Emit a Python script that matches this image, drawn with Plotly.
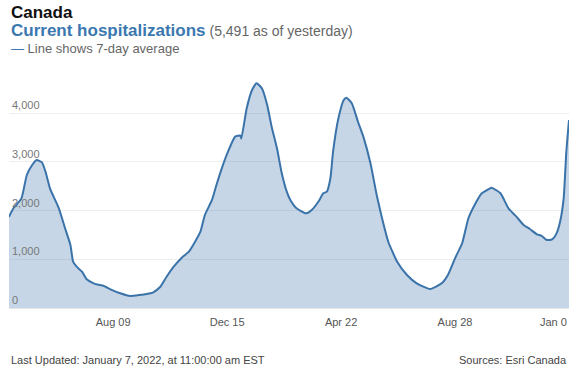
import plotly.graph_objects as go

dates = [
    "2020-04-14", "2020-04-19", "2020-04-28", "2020-05-04", "2020-05-10", "2020-05-15",
    "2020-05-21", "2020-05-25", "2020-05-30", "2020-06-09", "2020-06-16", "2020-06-22",
    "2020-06-25", "2020-06-29", "2020-07-05", "2020-07-10", "2020-07-18", "2020-07-25",
    "2020-07-29", "2020-08-06", "2020-08-17", "2020-08-28", "2020-09-08", "2020-09-20",
    "2020-09-23", "2020-10-01", "2020-10-08", "2020-10-16", "2020-10-25", "2020-11-02",
    "2020-11-09", "2020-11-15", "2020-11-20", "2020-11-28", "2020-12-03", "2020-12-09",
    "2020-12-16", "2020-12-24", "2020-12-30", "2020-12-31", "2021-01-06", "2021-01-12",
    "2021-01-17", "2021-01-23", "2021-01-29", "2021-02-03", "2021-02-09", "2021-02-14",
    "2021-02-20", "2021-02-24", "2021-03-03", "2021-03-14", "2021-03-20", "2021-03-28",
    "2021-04-02", "2021-04-06", "2021-04-10", "2021-04-13", "2021-04-19", "2021-04-25",
    "2021-04-28", "2021-05-04", "2021-05-11", "2021-05-17", "2021-05-25", "2021-06-01",
    "2021-06-07", "2021-06-14", "2021-06-24", "2021-07-05", "2021-07-16", "2021-07-31",
    "2021-08-13", "2021-08-20", "2021-08-28", "2021-09-05", "2021-09-12", "2021-09-19",
    "2021-09-27", "2021-10-03", "2021-10-08", "2021-10-18", "2021-10-27", "2021-11-05",
    "2021-11-13", "2021-11-20", "2021-11-28", "2021-12-03", "2021-12-09", "2021-12-15",
    "2021-12-20", "2021-12-24", "2021-12-28", "2021-12-31", "2022-01-03",
]
hospitalizations_7day = [
    1875, 2047, 2252, 2731, 2936, 3039,
    2991, 2799, 2457, 2047, 1636, 1294,
    951, 848, 745, 595, 507, 472,
    458, 384, 302, 246, 267, 302,
    322, 437, 643, 848, 1033, 1156,
    1361, 1567, 1910, 2218, 2526, 2868,
    3210, 3518, 3539, 3480, 4101, 4476,
    4614, 4511, 4168, 3723, 3279, 2799,
    2388, 2218, 2047, 1944, 2012, 2197,
    2355, 2388, 2663, 3210, 3895, 4271,
    4318, 4203, 3825, 3518, 2971, 2320,
    1842, 1361, 951, 678, 507, 390,
    507, 678, 1020, 1329, 1842, 2115,
    2355, 2423, 2471, 2355, 2047, 1875,
    1704, 1622, 1513, 1485, 1396, 1410,
    1533, 1772, 2252, 3210, 3860,
]
tick_dates = ["2020-08-09", "2020-12-15", "2021-04-22", "2021-08-28"]
tick_labels = ["Aug 09", "Dec 15", "Apr 22", "Aug 28"]
last_tick_date = "2022-01-03"
last_tick_label = "Jan 0"  # shown clipped in the original chart
y_ticks = [0, 1000, 2000, 3000, 4000]
y_labels = ["0", "1,000", "2,000", "3,000", "4,000"]

FONT = "Liberation Sans, Arial, Helvetica, sans-serif"
BLUE = "#3a73a9"

W, H = 581, 376
ML, MR, MT, MB = 9, 12, 75, 68

fig = go.Figure()
fig.add_trace(go.Scatter(
    x=dates, y=hospitalizations_7day, mode="lines",
    line=dict(color=BLUE, width=2, shape="spline", smoothing=0.5),
    fill="tozeroy", fillcolor="rgba(58,115,169,0.29)",
    hoverinfo="skip", showlegend=False,
))

plot_w = W - ML - MR
plot_h = H - MT - MB


def px(x, y):
    return (x - ML) / plot_w, (H - MB - y) / plot_h


header_footer = [
    ("<b>Canada</b>", 9, 12, "left", 17, "#111"),
    ("<b><span style='color:#3b78b0'>Current hospitalizations</span></b>"
     "<span style='font-size:14px;color:#666'> (5,491 as of yesterday)</span>",
     9, 31, "left", 17, BLUE),
    ("<span style='color:#3b78b0'>—</span> Line shows 7-day average", 9, 48, "left", 13, "#666"),
    ("Last Updated: January 7, 2022, at 11:00:00 am EST", 9, 360, "left", 11, "#444"),
    ("Sources: Esri Canada", 569, 360, "right", 11, "#444"),
]
annotations = []
for text, x, y, anchor, size, color in header_footer:
    ax, ay = px(x, y)
    annotations.append(dict(
        text=text, x=ax, y=ay, xref="paper", yref="paper", showarrow=False,
        xanchor=anchor, yanchor="middle",
        font=dict(size=size, color=color, family=FONT),
    ))
# last x tick label, right-aligned to its tick date at the plot edge
annotations.append(dict(
    text=last_tick_label, x=last_tick_date, xref="x", y=0, yref="paper",
    yshift=-14, showarrow=False, xanchor="right", yanchor="middle",
    font=dict(size=11, color="#555", family=FONT),
))

fig.update_layout(
    width=W, height=H,
    margin=dict(l=ML, r=MR, t=MT, b=MB, autoexpand=False),
    paper_bgcolor="white", plot_bgcolor="white",
    font=dict(family=FONT, color="#666"),
    xaxis=dict(
        type="date", range=["2020-04-14", "2022-01-03"],
        tickvals=tick_dates, ticktext=tick_labels, ticklabelstandoff=4,
        showgrid=False, zeroline=False, showline=True, linecolor="#e6e6e6", linewidth=1,
        ticks="", tickfont=dict(size=11, color="#555", family=FONT),
        fixedrange=True, automargin=False,
    ),
    yaxis=dict(
        range=[0, 4784], tickvals=y_ticks, ticktext=y_labels,
        ticklabelposition="inside top", showgrid=True, gridcolor="#eeeeee", gridwidth=1,
        zeroline=False, showline=False, ticks="",
        tickfont=dict(size=11, color="#777", family=FONT),
        fixedrange=True, automargin=False,
    ),
    annotations=annotations,
)

fig.write_html(
    "out.html",
    config={"displayModeBar": False, "staticPlot": True},
    post_script="document.body.style.margin='0';document.body.style.overflow='hidden';",
)
